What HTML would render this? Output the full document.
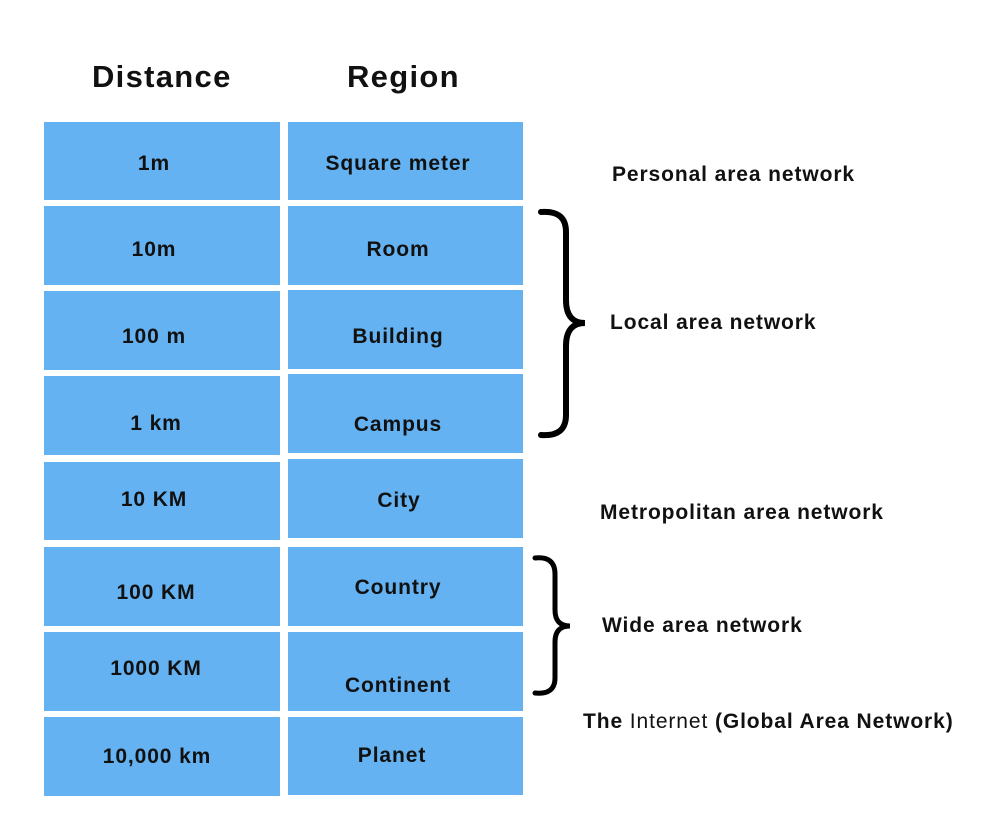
<!DOCTYPE html>
<html><head><style>
body{margin:0;width:990px;height:814px;background:#fff;font-family:"Liberation Sans",sans-serif;font-weight:bold;color:#111;position:relative;overflow:hidden}
.b{position:absolute;background:#64b2f1}
.c{position:absolute;font-size:21px;letter-spacing:0.9px;white-space:nowrap;transform:translate(-50%,-50%);margin-top:2px}
.t{position:absolute;font-size:21px;letter-spacing:0.9px;white-space:nowrap;transform:translateY(-50%);margin-top:2px}
.h{position:absolute;font-size:31px;letter-spacing:1.3px;top:59px}
</style></head><body>
<div class="h" style="left:92px">Distance</div>
<div class="h" style="left:347px">Region</div>

<div class="b" style="left:44px;top:122px;width:236px;height:78px"></div>
<div class="b" style="left:44px;top:206px;width:236px;height:79px"></div>
<div class="b" style="left:44px;top:291px;width:236px;height:79px"></div>
<div class="b" style="left:44px;top:376px;width:236px;height:79px"></div>
<div class="b" style="left:44px;top:462px;width:236px;height:78px"></div>
<div class="b" style="left:44px;top:547px;width:236px;height:79px"></div>
<div class="b" style="left:44px;top:632px;width:236px;height:79px"></div>
<div class="b" style="left:44px;top:717px;width:236px;height:79px"></div>

<div class="b" style="left:288px;top:122px;width:235px;height:78px"></div>
<div class="b" style="left:288px;top:206px;width:235px;height:79px"></div>
<div class="b" style="left:288px;top:290px;width:235px;height:79px"></div>
<div class="b" style="left:288px;top:374px;width:235px;height:79px"></div>
<div class="b" style="left:288px;top:459px;width:235px;height:79px"></div>
<div class="b" style="left:288px;top:547px;width:235px;height:79px"></div>
<div class="b" style="left:288px;top:632px;width:235px;height:79px"></div>
<div class="b" style="left:288px;top:717px;width:235px;height:78px"></div>

<div class="c" style="left:154px;top:162px">1m</div>
<div class="c" style="left:154px;top:248px">10m</div>
<div class="c" style="left:154px;top:335px">100 m</div>
<div class="c" style="left:156px;top:422px">1 km</div>
<div class="c" style="left:154px;top:498px">10 KM</div>
<div class="c" style="left:156px;top:591px">100 KM</div>
<div class="c" style="left:156px;top:667px">1000 KM</div>
<div class="c" style="left:157px;top:755px">10,000 km</div>

<div class="c" style="left:398px;top:162px">Square meter</div>
<div class="c" style="left:398px;top:248px">Room</div>
<div class="c" style="left:398px;top:335px">Building</div>
<div class="c" style="left:398px;top:423px">Campus</div>
<div class="c" style="left:399px;top:499px">City</div>
<div class="c" style="left:398px;top:586px">Country</div>
<div class="c" style="left:398px;top:684px">Continent</div>
<div class="c" style="left:392px;top:754px">Planet</div>

<svg style="position:absolute;left:0;top:0" width="990" height="814">
<path d="M541 212 Q566 210 566 232 L566 300 Q566 323 585 323 Q566 323 566 346 L566 415 Q566 437 541 435" fill="none" stroke="#000" stroke-width="6" stroke-linecap="round"/>
<path d="M535 558 Q555 556 555 574 L555 610 Q555 626 570 626 Q555 626 555 642 L555 678 Q555 695 535 693" fill="none" stroke="#000" stroke-width="5" stroke-linecap="round"/>
</svg>

<div class="t" style="left:612px;top:173px">Personal area network</div>
<div class="t" style="left:610px;top:321px">Local area network</div>
<div class="t" style="left:600px;top:511px">Metropolitan area network</div>
<div class="t" style="left:602px;top:624px">Wide area network</div>
<div class="t" style="left:583px;top:720px">The <span style="font-weight:normal">Internet</span> (Global Area Network)</div>
</body></html>
